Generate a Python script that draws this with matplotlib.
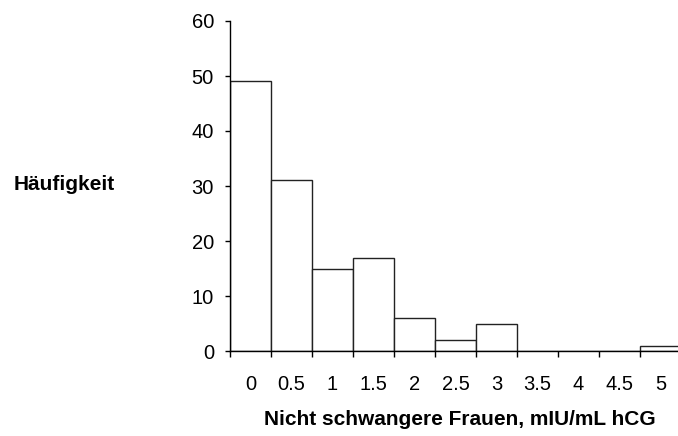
import numpy as np
import matplotlib.pyplot as plt

plt.rcParams['font.family'] = ['Liberation Sans', 'DejaVu Sans']

bin_starts = [0, 0.5, 1, 1.5, 2, 2.5, 3, 3.5, 4, 4.5, 5]
counts = [49, 31, 15, 17, 6, 2, 5, 0, 0, 0, 1]
tick_labels = ["0", "0.5", "1", "1.5", "2", "2.5", "3", "3.5", "4", "4.5", "5"]
width = 0.5

fig = plt.figure(figsize=(6.78, 4.36), dpi=100)
ax = fig.add_axes([230 / 678, 85 / 436, 451 / 678, 330 / 436])

ax.bar(bin_starts, counts, width=width, align='edge', facecolor='white',
       edgecolor='#222222', linewidth=1.0)

ax.set_xlim(0, 5.5)
ax.set_ylim(0, 60)
ax.set_yticks([0, 10, 20, 30, 40, 50, 60])

# ticks at bin edges, labels centred under bars
ax.set_xticks(np.arange(0, 5.51, 0.5))
ax.set_xticklabels([])
ax.set_xticks(np.array(bin_starts) + width / 2, minor=True)
ax.set_xticklabels(tick_labels, minor=True)
ax.tick_params(axis='x', which='minor', length=0, pad=17.5, labelsize=14.5)
ax.tick_params(axis='x', which='major', direction='out', length=4.3, width=1)
ax.tick_params(axis='y', direction='out', length=3.6, width=1, labelsize=14.5, pad=8)

for s in ['top', 'right']:
    ax.spines[s].set_visible(False)
ax.spines['left'].set_linewidth(1)
ax.spines['bottom'].set_linewidth(1)

fig.text(64 / 678, 1 - 184 / 436, "Häufigkeit", fontsize=15, fontweight='bold',
         ha='center', va='center')
fig.text(460 / 678, 1 - 419 / 436, "Nicht schwangere Frauen, mIU/mL hCG", fontsize=15,
         fontweight='bold', ha='center', va='center')

fig.savefig("out.png", dpi=100)
